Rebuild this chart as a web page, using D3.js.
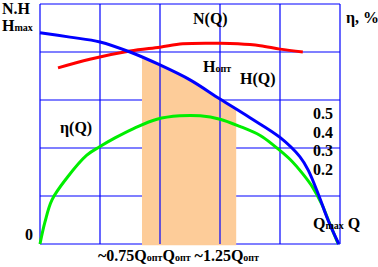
<!DOCTYPE html>
<html>
<head>
<meta charset="utf-8">
<script src="https://cdn.jsdelivr.net/npm/d3@7"></script>
<style>
  body { margin: 0; background: #fff; }
  text { font-family: "Liberation Serif", "Times New Roman", serif; font-weight: bold; fill: #000; }
</style>
</head>
<body>
<div id="chart"></div>
<script>
// Q in grid units (0..5 = 0..Qmax), values in grid units (0..5)
const qH   = [0, 0.5, 1, 1.5, 2, 2.5, 3, 3.5, 4, 4.33, 4.47, 4.65, 4.8, 4.98];
const hVal = [4.40, 4.31, 4.21, 4.0, 3.73, 3.42, 3.02, 2.63, 2.22, 1.82, 1.54, 1.0, 0.5, 0];

const qN   = [0.3, 0.83, 1.5, 2, 2.38, 3, 3.3, 3.67, 4, 4.38];
const nVal = [3.67, 3.85, 4.02, 4.10, 4.17, 4.18, 4.17, 4.13, 4.06, 4.0];

const qEta   = [0, 0.083, 0.2, 0.45, 0.78, 1, 1.25, 1.55, 1.95, 2.33, 2.67, 3, 3.33, 3.67, 3.9, 4.17, 4.38, 4.55, 4.7, 4.83, 4.97];
const etaVal = [0, 0.46, 0.92, 1.38, 1.85, 2.03, 2.21, 2.40, 2.60, 2.67, 2.67, 2.60, 2.45, 2.26, 2.05, 1.76, 1.46, 1.17, 0.82, 0.42, 0];

const workZone = [1.7, 3.27];   // ~0.75Qопт .. ~1.25Qопт
const etaTicks = ["0.5", "0.4", "0.3", "0.2"];
const gridX = [0, 1, 2, 3, 4, 5];
const gridY = [0, 1, 2, 3, 4, 5];

const width = 378, height = 267;
const svg = d3.select("#chart").append("svg")
  .attr("width", width).attr("height", height);

const x = d3.scaleLinear().domain([0, 5]).range([40, 340]);
const y = d3.scaleLinear().domain([0, 5]).range([244, 4]);

// horizontal grid (under the shading)
svg.append("g").selectAll("line").data(gridY).enter().append("line")
  .attr("x1", x(0)).attr("x2", x(5))
  .attr("y1", d => y(d)).attr("y2", d => y(d))
  .attr("stroke", "#0000ff").attr("stroke-width", 1.2);

const curve = d3.curveCatmullRom.alpha(0.5);

// shaded working zone under H(Q)
svg.append("clipPath").attr("id", "zone").append("rect")
  .attr("x", x(workZone[0])).attr("y", 0)
  .attr("width", x(workZone[1]) - x(workZone[0])).attr("height", y(0) + 1.5);
const hData = qH.map((q, i) => ({q: q, v: hVal[i]}));
svg.append("path")
  .datum(hData)
  .attr("clip-path", "url(#zone)")
  .attr("fill", "#fdcc99")
  .attr("d", d3.area().x(d => x(d.q)).y0(y(0) + 1.5).y1(d => y(d.v)).curve(curve));

// vertical grid
svg.append("g").selectAll("line").data(gridX).enter().append("line")
  .attr("x1", d => x(d)).attr("x2", d => x(d))
  .attr("y1", y(5)).attr("y2", y(0))
  .attr("stroke", "#0000ff").attr("stroke-width", 1.2);

const line = d3.line().x(d => x(d.q)).y(d => y(d.v)).curve(curve);

// N(Q)
svg.append("path").datum(qN.map((q, i) => ({q: q, v: nVal[i]})))
  .attr("fill", "none").attr("stroke", "#ff0000").attr("stroke-width", 3)
  .attr("d", line);

// eta(Q)
svg.append("path").datum(qEta.map((q, i) => ({q: q, v: etaVal[i]})))
  .attr("fill", "none").attr("stroke", "#00ee00").attr("stroke-width", 3)
  .attr("d", line);

// H(Q)
svg.append("path").datum(hData)
  .attr("fill", "none").attr("stroke", "#0000ff").attr("stroke-width", 3)
  .attr("d", line);

// labels
function label(tx, ty, parts) {
  const t = svg.append("text").attr("x", tx).attr("y", ty).style("font-size", "16px");
  parts.forEach(p => {
    const s = t.append("tspan").text(p.t);
    if (p.sub) s.style("font-size", "10px");
  });
  return t;
}

label(2, 14, [{t: "N.H"}]);
label(2, 31, [{t: "H"}, {t: "max", sub: true}]);
label(193, 24, [{t: "N(Q)"}]);
label(346, 23, [{t: "η, %"}]);
label(203, 72, [{t: "H"}, {t: "опт", sub: true}]);
label(240, 84, [{t: "H(Q)"}]);
label(60, 133, [{t: "η(Q)"}]);
label(25, 240, [{t: "0"}]);
label(313, 229, [{t: "Q"}, {t: "max", sub: true}, {t: " Q"}]);
label(98, 261, [{t: "~0.75Q"}, {t: "опт", sub: true}, {t: "Q"}, {t: "опт", sub: true},
                {t: " ~1.25Q"}, {t: "опт", sub: true}]);

svg.append("g").selectAll("text").data(etaTicks).enter().append("text")
  .attr("x", 313).attr("y", (d, i) => 119 + i * 18.5)
  .style("font-size", "16px")
  .text(d => d);
</script>
</body>
</html>
